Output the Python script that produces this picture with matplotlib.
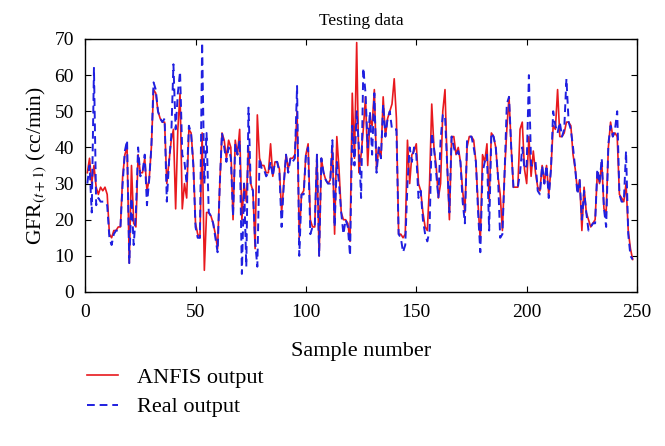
import matplotlib
matplotlib.use("Agg")
import matplotlib.pyplot as plt
import numpy as np

real_output = [
    30, 35, 22, 62, 24, 26, 25, 25, 25, 24,
    15, 13, 16, 17, 17, 18, 30, 39, 42, 8,
    26, 13, 22, 40, 32, 33, 38, 24, 31, 40,
    58, 56, 50, 48, 47, 48, 25, 36, 43, 63,
    45, 55, 61, 38, 36, 30, 46, 44, 35, 18,
    15, 15, 69, 30, 44, 22, 21, 19, 15, 11,
    30, 44, 40, 36, 40, 37, 21, 41, 38, 42,
    5, 30, 7, 51, 30, 28, 14, 7, 37, 34,
    34, 32, 33, 36, 32, 36, 36, 33, 18, 30,
    38, 33, 37, 36, 37, 57, 10, 27, 27, 38,
    40, 16, 18, 18, 38, 10, 37, 33, 31, 30,
    30, 42, 18, 36, 30, 22, 16, 20, 18, 10,
    46, 35, 50, 40, 26, 62, 55, 40, 50, 38,
    55, 33, 40, 37, 52, 43, 48, 50, 45, 45,
    45, 16, 15, 11, 13, 30, 40, 36, 40, 38,
    26, 28, 20, 16, 14, 17, 44, 40, 33, 26,
    42, 49, 49, 35, 22, 43, 40, 38, 39, 36,
    25, 19, 42, 43, 43, 40, 36, 22, 11, 33,
    36, 38, 17, 44, 43, 40, 32, 15, 16, 33,
    52, 54, 40, 29, 29, 29, 33, 40, 34, 35,
    60, 35, 35, 36, 28, 27, 35, 30, 35, 26,
    34, 50, 46, 44, 47, 43, 45, 59, 47, 45,
    40, 34, 27, 31, 20, 28, 22, 17, 18, 19,
    19, 34, 30, 37, 23, 18, 41, 46, 43, 45,
    50, 27, 25, 25, 39, 16, 10, 9,
]

anfis_output = [
    33, 37, 30, 35, 29, 27, 29, 28, 29, 27,
    16, 15, 17, 17, 18, 18, 32, 38, 40, 8,
    35, 19, 18, 38, 33, 33, 37, 28, 31, 40,
    56, 55, 50, 48, 47, 47, 30, 36, 42, 45,
    23, 45, 55, 23, 30, 26, 45, 44, 36, 19,
    16, 15, 44, 6, 22, 22, 21, 19, 16, 12,
    30, 44, 42, 37, 42, 40, 20, 42, 38, 45,
    20, 30, 25, 40, 30, 28, 12, 49, 37, 35,
    35, 33, 33, 41, 32, 36, 36, 34, 22, 30,
    38, 34, 37, 37, 38, 50, 15, 27, 28, 38,
    41, 20, 18, 18, 38, 10, 37, 33, 31, 30,
    31, 40, 16, 43, 34, 22, 20, 20, 19, 14,
    55, 37, 69, 33, 38, 45, 54, 35, 48, 46,
    56, 34, 40, 37, 54, 43, 48, 50, 52, 59,
    48, 16, 16, 15, 16, 42, 30, 38, 39, 41,
    30, 28, 22, 18, 17, 30, 52, 40, 35, 26,
    30, 50, 56, 35, 20, 43, 43, 38, 40, 36,
    28, 22, 40, 43, 43, 42, 36, 24, 14, 38,
    36, 41, 25, 44, 43, 40, 32, 27, 17, 33,
    45, 54, 40, 29, 29, 29, 45, 47, 34, 30,
    43, 32, 39, 33, 29, 28, 35, 30, 35, 27,
    34, 46, 45, 56, 43, 43, 44, 47, 47, 46,
    38, 34, 28, 31, 17, 29, 22, 20, 18, 19,
    20, 33, 30, 36, 23, 22, 40, 47, 43, 44,
    43, 27, 26, 25, 30, 17, 12, 9,
]

x_ticks = [0, 50, 100, 150, 200, 250]
y_ticks = [0, 10, 20, 30, 40, 50, 60, 70]

samples = np.arange(1, len(real_output) + 1)

plt.rcParams['font.family'] = ['Liberation Serif', 'DejaVu Serif']
plt.rcParams['mathtext.fontset'] = 'stix'

fig = plt.figure(figsize=(6.65, 4.46), dpi=100)
ax = fig.add_axes([0.128, 0.3453, 0.830, 0.5673])

ax.plot(samples, anfis_output, color='#e8191e', lw=1.2, label='ANFIS output', zorder=2)
ax.plot(samples, real_output, color='#1f1fe0', lw=1.4, ls=(0, (4, 2.5)), label='Real output', zorder=3)

ax.set_xlim(0, 250)
ax.set_ylim(0, 70)
ax.set_xticks(x_ticks)
ax.set_yticks(y_ticks)
ax.tick_params(direction='in', top=True, right=True, labelsize=14, length=4, width=0.8)
ax.tick_params(axis='x', pad=9)
ax.tick_params(axis='y', pad=8)
for s in ax.spines.values():
    s.set_linewidth(1.0)

ax.set_title('Testing data', fontsize=12.5, pad=10)
ax.set_xlabel('Sample number', fontsize=16, labelpad=15)
ax.set_ylabel(r'GFR$_{(t+1)}$ (cc/min)', fontsize=15.5, labelpad=4)

fig.legend(loc='upper left', bbox_to_anchor=(0.117, 0.197), frameon=False, fontsize=16,
           handlelength=1.4, handletextpad=0.85, labelspacing=0.42, borderaxespad=0.0)

fig.savefig('out.png', dpi=100)
